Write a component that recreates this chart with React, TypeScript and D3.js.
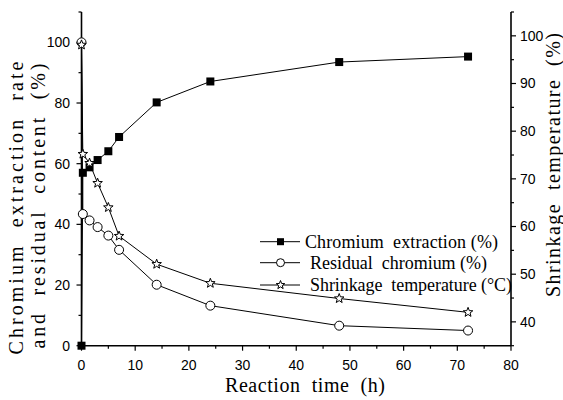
import React from "react";
import * as d3 from "d3";

const timeH = [0, 0.25, 1.5, 3, 5, 7, 14, 24, 48, 72];
const extraction = [0, 57, 58.8, 61.2, 64.1, 68.8, 80.2, 87.1, 93.5, 95.3];
const residual = [100, 43.4, 41.3, 39.1, 36.3, 31.6, 20.1, 13.2, 6.6, 5.0];
const shrinkage = [98.1, 75.2, 73.3, 69.1, 64.0, 58.0, 52.1, 48.1, 44.9, 42.0];

const xTicks = [0, 10, 20, 30, 40, 50, 60, 70, 80];
const xMinor = [5, 15, 25, 35, 45, 55, 65, 75];
const yLeftTicks = [0, 20, 40, 60, 80, 100];
const yLeftMinor = [10, 30, 50, 70, 90, 110];
const yRightTicks = [40, 50, 60, 70, 80, 90, 100];
const yRightMinor = [35, 45, 55, 65, 75, 85, 95, 105];

const NB = "\u00A0";
const legendLabels = [
  `Chromium${NB}${NB}extraction${NB}(%)`,
  `Residual${NB}${NB}chromium${NB}(%)`,
  `Shrinkage${NB}${NB}temperature${NB}(°C)`,
];
const xTitle = `Reaction${NB}${NB}time${NB}${NB}(h)`;
const yTitle1 = `Chromium${NB}${NB}extraction${NB}${NB}rate`;
const yTitle2 = `and${NB}${NB}residual${NB}${NB}content${NB}${NB}(%)`;
const yRTitle = `Shrinkage${NB}${NB}temperature${NB}${NB}(%)`;

const W = 563, H = 400;
const L = 81.5, R = 511, T = 12, B = 345.7;

const x = d3.scaleLinear().domain([0, 80]).range([L, R]);
const yl = d3.scaleLinear().domain([0, 110]).range([B, T]);
const yr = d3.scaleLinear().domain([35, 105]).range([B, T]);

function starPath(cx: number, cy: number, r: number) {
  const pts: string[] = [];
  const ri = r * 0.42;
  for (let i = 0; i < 10; i++) {
    const a = -Math.PI / 2 + (i * Math.PI) / 5;
    const rr = i % 2 === 0 ? r : ri;
    pts.push(`${cx + rr * Math.cos(a)},${cy + rr * Math.sin(a)}`);
  }
  return "M" + pts.join("L") + "Z";
}

const serifStyle = { fontFamily: "'Liberation Serif', 'Times New Roman', serif" };
const sansStyle = { fontFamily: "'Liberation Sans', Arial, sans-serif" };

export default function App() {
  const lineL = d3.line<number>().x((_, i) => x(timeH[i])).y((d) => yl(d));
  const lineR = d3.line<number>().x((_, i) => x(timeH[i])).y((d) => yr(d));
  const legY = [241.7, 262.7, 285];
  return (
    <svg width={W} height={H} style={{ position: "absolute", left: 0, top: 0, background: "#fff" }}>
      <rect x={0} y={0} width={W} height={H} fill="#fff" />
      <path d={lineL(extraction) || ""} fill="none" stroke="#000" strokeWidth={1} />
      <path d={lineL(residual) || ""} fill="none" stroke="#000" strokeWidth={1} />
      <path d={lineR(shrinkage) || ""} fill="none" stroke="#000" strokeWidth={1} />

      <g stroke="#000" strokeWidth={1.6}>
        <line x1={L} x2={L} y1={T} y2={B} />
        <line x1={R} x2={R} y1={T} y2={B} />
        <line x1={L} x2={R} y1={B} y2={B} />
      </g>
      <g stroke="#000" strokeWidth={1.2}>
        {xTicks.map((t) => <line key={"xt" + t} x1={x(t)} x2={x(t)} y1={B} y2={B + 5} />)}
        {xMinor.map((t) => <line key={"xm" + t} x1={x(t)} x2={x(t)} y1={B} y2={B + 3} />)}
        {yLeftTicks.map((t) => <line key={"yt" + t} x1={L} x2={L - 5} y1={yl(t)} y2={yl(t)} />)}
        {yLeftMinor.map((t) => <line key={"ym" + t} x1={L} x2={L - 3} y1={yl(t)} y2={yl(t)} />)}
        {yRightTicks.map((t) => <line key={"rt" + t} x1={R} x2={R + 5} y1={yr(t)} y2={yr(t)} />)}
        {yRightMinor.map((t) => <line key={"rm" + t} x1={R} x2={R + 3} y1={yr(t)} y2={yr(t)} />)}
      </g>
      <g style={sansStyle} fontSize={14} fill="#000">
        {xTicks.map((t) => (
          <text key={"xl" + t} x={x(t)} y={370} textAnchor="middle">{t}</text>
        ))}
        {yLeftTicks.map((t) => (
          <text key={"yl" + t} x={70} y={yl(t)} dy="0.35em" textAnchor="end">{t}</text>
        ))}
        {yRightTicks.map((t) => (
          <text key={"rl" + t} x={520} y={yr(t)} dy="0.35em" textAnchor="start">{t}</text>
        ))}
      </g>

      {extraction.map((v, i) => (
        <rect key={"s" + i} x={x(timeH[i]) - 4} y={yl(v) - 4} width={8} height={8} fill="#000" />
      ))}
      {residual.map((v, i) => (
        <circle key={"c" + i} cx={x(timeH[i])} cy={yl(v)} r={4.5} fill="#fff" stroke="#000" strokeWidth={1} />
      ))}
      {shrinkage.map((v, i) => (
        <path key={"st" + i} d={starPath(x(timeH[i]), yr(v), 5)} fill="#fff" stroke="#000" strokeWidth={1} />
      ))}

      {legendLabels.map((lab, i) => (
        <g key={"lg" + i}>
          <line x1={260} x2={300} y1={legY[i]} y2={legY[i]} stroke="#000" strokeWidth={1} />
          {i === 0 && <rect x={277} y={legY[i] - 3.5} width={7} height={7} fill="#000" />}
          {i === 1 && <circle cx={280.5} cy={legY[i]} r={4} fill="#fff" stroke="#000" />}
          {i === 2 && <path d={starPath(280.5, legY[i], 4.5)} fill="#fff" stroke="#000" />}
          <text x={i === 0 ? 305 : 310} y={legY[i] + 6} style={serifStyle} fontSize={18}
            textLength={[193, 177, 202][i]} lengthAdjust="spacing">{lab}</text>
        </g>
      ))}

      <text x={225} y={392} style={serifStyle} fontSize={20} textLength={160} lengthAdjust="spacing">{xTitle}</text>
      <g style={serifStyle} fontSize={20}>
        <text transform="translate(23,208) rotate(-90)" textAnchor="middle" textLength={293} lengthAdjust="spacing">{yTitle1}</text>
        <text transform="translate(45,206) rotate(-90)" textAnchor="middle" textLength={285} lengthAdjust="spacing">{yTitle2}</text>
        <text transform="translate(560,165) rotate(-90)" textAnchor="middle" textLength={264} lengthAdjust="spacing">{yRTitle}</text>
      </g>
    </svg>
  );
}
